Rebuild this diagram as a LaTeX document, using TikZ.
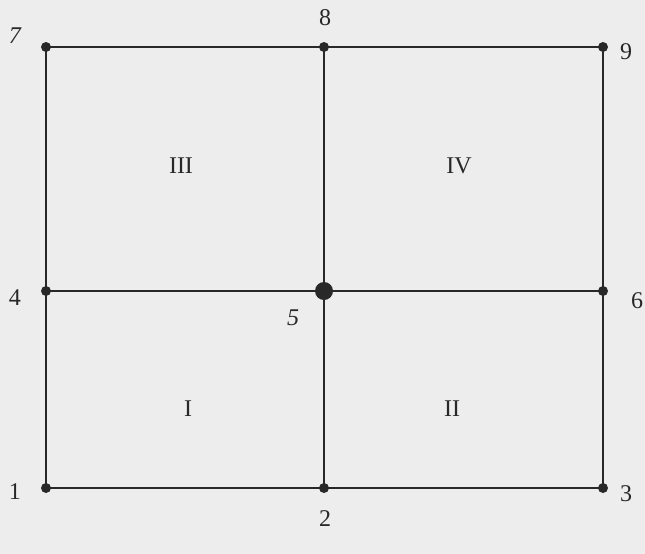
\documentclass[tikz,border=0pt]{standalone}
\usepackage{fontspec}
\setmainfont{Liberation Serif}
\definecolor{bg}{RGB}{237,237,237}
\definecolor{ink}{RGB}{40,40,40}
\tikzset{
  edge/.style={draw=ink, line width=1.8pt},
  dot/.style={circle, fill=ink, inner sep=0pt, minimum size=10pt},
  bigdot/.style={circle, fill=ink, inner sep=0pt, minimum size=18pt},
  lab/.style={text=ink, font=\fontsize{24}{26}\selectfont, inner sep=0pt},
}
\begin{document}
\begin{tikzpicture}[x=1pt,y=-1pt]
\fill[bg] (0,0) rectangle (645,554);
\useasboundingbox (0,0) rectangle (645,554);
\node[dot] (n1) at (46,488) {};
\node[dot] (n2) at (324,488) {};
\node[dot] (n3) at (603,488) {};
\node[dot] (n4) at (46,291) {};
\node[bigdot] (n5) at (324,291) {};
\node[dot] (n6) at (603,291) {};
\node[dot] (n7) at (46,47) {};
\node[dot] (n8) at (324,47) {};
\node[dot] (n9) at (603,47) {};
\draw[edge] (n1.center) -- (n2.center) -- (n3.center);
\draw[edge] (n4.center) -- (n5.center) -- (n6.center);
\draw[edge] (n7.center) -- (n8.center) -- (n9.center);
\draw[edge] (n1.center) -- (n4.center) -- (n7.center);
\draw[edge] (n2.center) -- (n5.center) -- (n8.center);
\draw[edge] (n3.center) -- (n6.center) -- (n9.center);
\node[lab] (l1) at (15,492) {1};
\node[lab] (l2) at (325,519) {2};
\node[lab] (l3) at (626,494) {3};
\node[lab] (l4) at (15,298) {4};
\node[lab] (l5) at (293,318) {\itshape 5};
\node[lab] (l6) at (637,301) {6};
\node[lab] (l7) at (15,36) {\itshape 7};
\node[lab] (l8) at (325,18) {8};
\node[lab] (l9) at (626,52) {9};
\node[lab] (r3) at (181,166) {III};
\node[lab] (r4) at (459,166) {IV};
\node[lab] (r1) at (188,409) {I};
\node[lab] (r2) at (452,409) {II};
\end{tikzpicture}
\end{document}
